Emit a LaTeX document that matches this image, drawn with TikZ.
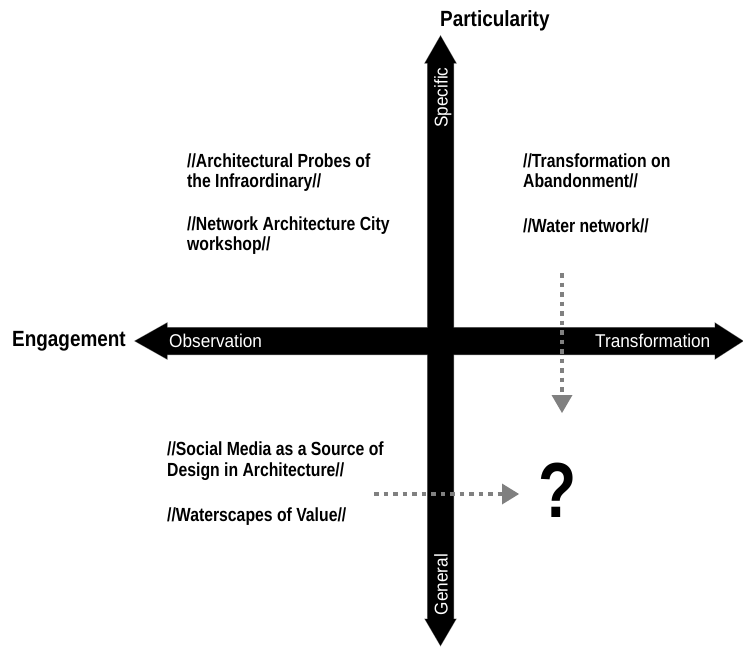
\documentclass[tikz,border=0pt]{standalone}
\usepackage{fontspec}
\setmainfont{Liberation Sans}
\newfontfamily\condbold[FakeStretch=0.83]{Liberation Sans}
\newfontfamily\titlefont[FakeStretch=0.86]{Liberation Sans}
\newfontfamily\labfont[FakeStretch=0.93]{Liberation Sans}
\newfontfamily\qfont[FakeStretch=0.8]{Liberation Sans}
\definecolor{flowgray}{RGB}{128,128,128}
\begin{document}
\begin{tikzpicture}[x=1pt,y=-1pt,
  axisfill/.style={fill=black},
  axisedge/.style={draw=black!50,line width=1pt},
  titletxt/.style={font=\titlefont\bfseries\fontsize{22}{25}\selectfont, anchor=base west, inner sep=0pt},
  bodytxt/.style={font=\condbold\bfseries\fontsize{19}{22}\selectfont, anchor=base west, inner sep=0pt},
  axislabel/.style={font=\labfont\fontsize{18.5}{21}\selectfont, text=white, anchor=base west, inner sep=0pt},
  flow/.style={draw=flowgray, line width=4pt, dash pattern=on 4.5pt off 5pt},
  flowhead/.style={fill=flowgray},
  qmark/.style={font=\qfont\bfseries\fontsize{78}{80}\selectfont, anchor=base, inner sep=0pt}]
\useasboundingbox (0,0) rectangle (743,646);

% axes outlines (light halo)
\path[axisedge] (135,341) -- (167,323) -- (167,327.5) -- (715,327.5) -- (715,323) -- (743,341) -- (715,359) -- (715,354.5) -- (167,354.5) -- (167,359) -- cycle;
\path[axisedge] (440.5,36) -- (456,63) -- (453.5,63) -- (453.5,619) -- (456,619) -- (440.5,645.5) -- (425,619) -- (427.5,619) -- (427.5,63) -- (425,63) -- cycle;
% axes fill
\path[axisfill] (135,341) -- (167,323) -- (167,327.5) -- (715,327.5) -- (715,323) -- (743,341) -- (715,359) -- (715,354.5) -- (167,354.5) -- (167,359) -- cycle;
\path[axisfill] (440.5,36) -- (456,63) -- (453.5,63) -- (453.5,619) -- (456,619) -- (440.5,645.5) -- (425,619) -- (427.5,619) -- (427.5,63) -- (425,63) -- cycle;

% axis titles
\node[titletxt] (part) at (440,26.7) {Particularity};
\node[titletxt] (eng) at (12,346.5) {Engagement};

% labels in the bars
\node[axislabel] (obs) at (169,347) {Observation};
\node[axislabel] (trans) at (595,347) {Transformation};
\node[axislabel, rotate=90] (spec) at (447.5,128) {Specific};
\node[axislabel, rotate=90] (gen) at (447.5,615.5) {General};

% texts top left
\node[bodytxt] (t1) at (187,167) {//Architectural Probes of};
\node[bodytxt] (t2) at (187,187.5) {the Infraordinary//};
\node[bodytxt] (t3) at (187,230) {//Network Architecture City};
\node[bodytxt] (t4) at (187,250.5) {workshop//};
% texts top right
\node[bodytxt] (r1) at (523,167) {//Transformation on};
\node[bodytxt] (r2) at (523,187.5) {Abandonment//};
\node[bodytxt] (r3) at (523,232) {//Water network//};
% texts bottom left
\node[bodytxt] (b1) at (167,455) {//Social Media as a Source of};
\node[bodytxt] (b2) at (167,476) {Design in Architecture//};
\node[bodytxt] (b3) at (167,521) {//Waterscapes of Value//};

% question mark
\node[qmark] (q) at (557.5,517) {?};

% dotted arrows
\coordinate (vs) at (562,273);
\coordinate (ve) at (562,395);
\coordinate (vt) at (562,413);
\coordinate (hs) at (374,494);
\coordinate (he) at (502,494);
\coordinate (ht) at (519,494);
\draw[flow] (vs) -- (ve);
\fill[flowhead] ([xshift=-10.5pt]ve) -- ([xshift=10.5pt]ve) -- (vt) -- cycle;
\draw[flow] (hs) -- (he);
\fill[flowhead] ([yshift=10.5pt]he) -- ([yshift=-10.5pt]he) -- (ht) -- cycle;
\end{tikzpicture}
\end{document}
